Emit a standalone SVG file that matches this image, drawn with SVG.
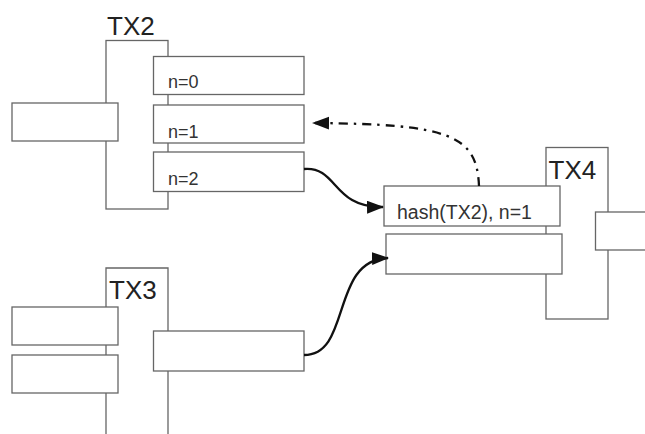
<svg xmlns="http://www.w3.org/2000/svg" width="645" height="434" viewBox="0 0 645 434">
  <style>
    .box { fill: #ffffff; stroke: #666666; stroke-width: 1.3; }
    .title { font-family: "Liberation Sans", Arial, sans-serif; font-size: 26px; fill: #222222; }
    .lbl { font-family: "Liberation Sans", Arial, sans-serif; font-size: 18px; fill: #333333; }
    .hash { font-size: 19.5px; }
    .link { fill: none; stroke: #111111; stroke-width: 2.3; }
    .dashed { stroke-dasharray: 9 6 2.5 6; }
  </style>
  <defs>
    <marker id="arrow" markerUnits="userSpaceOnUse" markerWidth="18" markerHeight="14" refX="16" refY="6.5" orient="auto">
      <path d="M0,0 L17,6.5 L0,13 Z" fill="#111111"/>
    </marker>
  </defs>
  <rect width="645" height="434" fill="#ffffff"/>

  <!-- TX2 -->
  <g id="tx2">
    <rect class="box" x="106" y="40.5" width="62" height="168.5"/>
    <text class="title" x="107" y="35">TX2</text>
    <rect class="box" x="12" y="103" width="106" height="38"/>
    <g id="tx2-out0">
      <rect class="box" x="153.5" y="56.5" width="150.5" height="38"/>
      <text class="lbl" x="168" y="88">n=0</text>
    </g>
    <g id="tx2-out1">
      <rect class="box" x="153.5" y="105" width="150.5" height="38"/>
      <text class="lbl" x="168" y="137.5">n=1</text>
    </g>
    <g id="tx2-out2">
      <rect class="box" x="153.5" y="152" width="150.5" height="39.5"/>
      <text class="lbl" x="168" y="185">n=2</text>
    </g>
  </g>

  <!-- TX3 -->
  <g id="tx3">
    <path class="box" d="M106,440 V268 H168 V440" fill="none"/>
    <text class="title" x="109" y="299">TX3</text>
    <rect class="box" x="12" y="307" width="106" height="38"/>
    <rect class="box" x="12" y="355" width="106" height="38"/>
    <g id="tx3-out0">
      <rect class="box" x="153.5" y="331" width="150.5" height="40"/>
    </g>
  </g>

  <!-- TX4 -->
  <g id="tx4">
    <rect class="box" x="546" y="147.5" width="62" height="171.5"/>
    <text class="title" x="548.5" y="178.5">TX4</text>
    <g id="tx4-in0">
      <rect class="box" x="384" y="186" width="176" height="40"/>
      <text class="lbl hash" x="397" y="218.5">hash(TX2), n=1</text>
    </g>
    <g id="tx4-in1">
      <rect class="box" x="386" y="234" width="176" height="40"/>
    </g>
    <rect class="box" x="595.5" y="212" width="55" height="38"/>
  </g>

  <!-- connectors -->
  <g id="connectors">
    <path class="link" d="M304,169 C338,166 332,208 383,207" marker-end="url(#arrow)"/>
    <path class="link" d="M304,355 C352,355 330,260 388,258" marker-end="url(#arrow)"/>
    <path class="link dashed" d="M479,186 C477,135 450,124 313,123" marker-end="url(#arrow)"/>
  </g>
</svg>
